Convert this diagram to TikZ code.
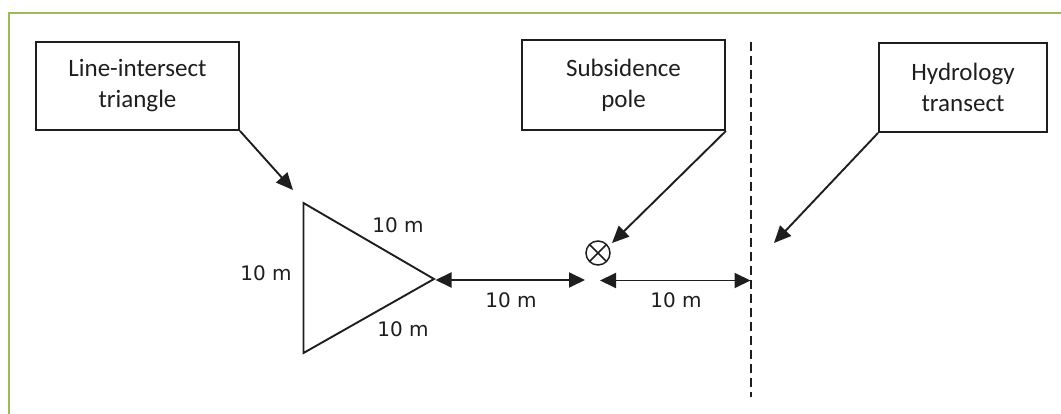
\documentclass[tikz,border=0pt]{standalone}
\usepackage{fontspec}
\setmainfont{Carlito}
\newfontfamily\dimfont{DejaVu Sans}
\usetikzlibrary{arrows.meta}
\definecolor{frameGreen}{RGB}{155,187,89}
\definecolor{ink}{RGB}{30,30,30}
\tikzset{
  labelbox/.style={draw=ink, line width=1.9pt, align=center, inner sep=0pt,
    text=ink, font=\fontsize{25}{31}\selectfont},
  pointer/.style={ink, line width=1.9pt, -{Triangle[length=17pt,width=15pt]}},
  dimline/.style={ink, line width=1.9pt, {Triangle[length=16pt,width=15pt]}-{Triangle[length=16pt,width=15pt]}},
  dimtext/.style={text=ink, font=\dimfont\fontsize{20}{24}\selectfont, anchor=base, inner sep=0pt},
  outline/.style={ink, line width=1.9pt, line join=miter},
  transect/.style={ink, line width=2pt, dash pattern=on 9pt off 5pt}
}
\begin{document}
\begin{tikzpicture}[x=1pt,y=-1pt]
\useasboundingbox (0,0) rectangle (1061,414);
\begin{scope}
\clip (0,0) rectangle (1061,414);
% page frame
\draw[frameGreen, line width=2pt] (1070,13.3) -- (9.3,13.3) -- (9.3,420);
\end{scope}

% call-out boxes
\node[labelbox, minimum width=203pt, minimum height=88pt] (tri) at (137.5,86) {Line-intersect\\triangle};
\node[labelbox, minimum width=203pt, minimum height=90pt] (pole) at (623.5,85) {Subsidence\\pole};
\node[labelbox, minimum width=168pt, minimum height=89pt] (hyd) at (963,87.5) {Hydrology\\transect};

% triangle plot
\coordinate (tA) at (303.5,203);
\coordinate (tB) at (303.5,353);
\coordinate (apex) at (434,279);
\draw[outline] (tA) -- (apex) -- (tB) -- cycle;
\node[dimtext] (sTop) at (398,233) {10 m};
\node[dimtext] (sLeft) at (266,281) {10 m};
\node[dimtext] (sBot) at (403,337) {10 m};

% subsidence pole marker
\node[draw=ink, circle, line width=1.5pt, minimum size=24pt, inner sep=0pt,
  path picture={\draw[ink, line width=1.5pt]
    (path picture bounding box.north west) -- (path picture bounding box.south east)
    (path picture bounding box.north east) -- (path picture bounding box.south west);}]
  (mark) at (598,253) {};

% hydrology transect
\coordinate (dTop) at (751,42);
\coordinate (dBot) at (751,397);
\draw[transect] (dTop) -- (dBot);

% distances
\coordinate (d1a) at (435.5,280);
\coordinate (d1b) at (585,280);
\coordinate (d2a) at (600,280.5);
\coordinate (d2b) at (750.5,280.5);
\draw[dimline] (d1a) -- (d1b);
\draw[dimline] (d2a) -- (d2b);
\node[dimtext] (m1) at (511,308) {10 m};
\node[dimtext] (m2) at (676,308) {10 m};

% pointers
\coordinate (p1) at (293,190);
\coordinate (p2) at (612,243);
\coordinate (p3) at (774,243);
\draw[pointer] (tri.south east) -- (p1);
\draw[pointer] (pole.south east) -- (p2);
\draw[pointer] (hyd.south west) -- (p3);
\end{tikzpicture}
\end{document}
